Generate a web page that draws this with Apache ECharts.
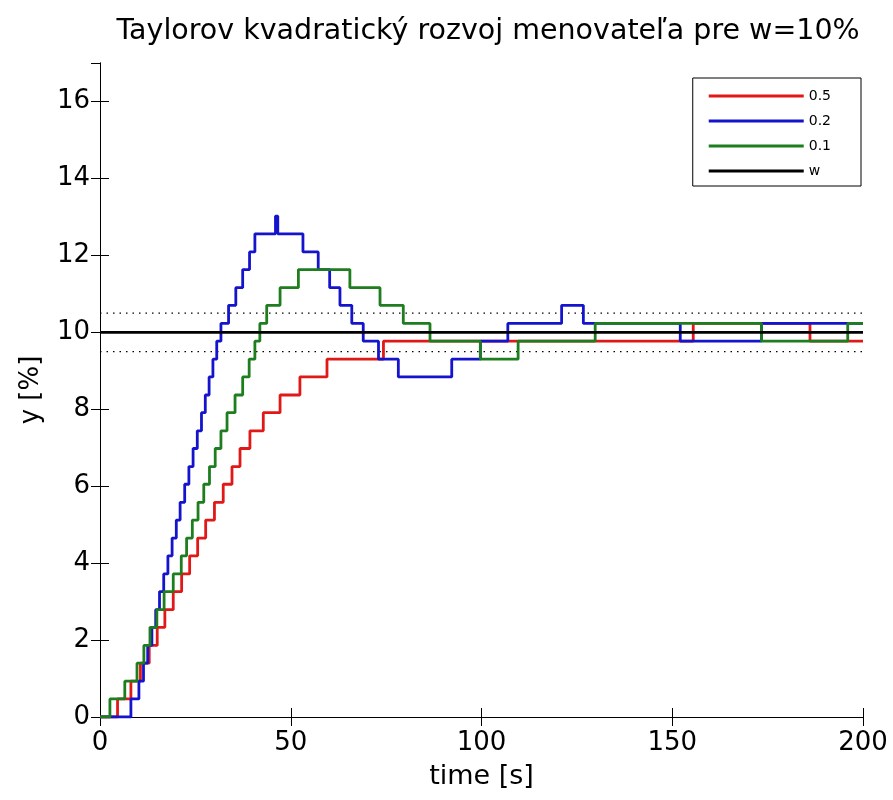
<!DOCTYPE html>
<html><head><meta charset="utf-8">
<script src="https://cdn.jsdelivr.net/npm/echarts@6/dist/echarts.min.js"></script>
<style>html,body{margin:0;padding:0;background:#fff}#c{width:893px;height:800px}</style>
</head><body><div id="c"></div>
<script>
const titleText = 'Taylorov kvadratický rozvoj menovateľa pre w=10%';
const xTicks = [0, 50, 100, 150, 200];
const yTicks = [0, 2, 4, 6, 8, 10, 12, 14, 16];
const seriesNames = ['0.5', '0.2', '0.1', 'w'];
// [time s, y %] step change points
const red05 = [[0,0],[4.6,0.47],[8.1,0.93],[10.6,1.40],[12.9,1.86],[15.0,2.33],[17.0,2.79],[19.2,3.26],[21.4,3.72],[23.5,4.19],[25.6,4.65],[27.7,5.12],[30.0,5.58],[32.3,6.05],[34.6,6.51],[36.7,6.98],[39.3,7.44],[42.8,7.91],[47.2,8.37],[52.4,8.84],[59.5,9.30],[74.3,9.77],[155.5,10.23],[186.1,9.77],[200,9.77]];
const blue02 = [[0,0],[8.1,0.47],[10.2,0.93],[11.4,1.40],[12.5,1.86],[13.6,2.33],[14.6,2.79],[15.6,3.26],[16.7,3.72],[17.8,4.19],[18.9,4.65],[20.0,5.12],[21.0,5.58],[22.2,6.05],[23.3,6.51],[24.4,6.98],[25.5,7.44],[26.6,7.91],[27.6,8.37],[28.6,8.84],[29.6,9.30],[30.6,9.77],[31.7,10.23],[33.7,10.70],[35.6,11.16],[37.4,11.63],[39.2,12.09],[40.6,12.56],[46.0,13.02],[46.6,12.56],[53.2,12.09],[57.2,11.63],[60.2,11.16],[62.9,10.70],[66.0,10.23],[69.0,9.77],[73.0,9.30],[78.2,8.84],[92.2,9.30],[99.7,9.77],[106.9,10.23],[121.0,10.70],[126.7,10.23],[152.1,9.77],[173.4,10.23],[200,10.23]];
const green01 = [[0,0],[2.6,0.47],[6.5,0.93],[9.7,1.40],[11.5,1.86],[13.1,2.33],[14.9,2.79],[16.8,3.26],[19.2,3.72],[21.3,4.19],[22.7,4.65],[24.2,5.12],[25.7,5.58],[27.2,6.05],[28.7,6.51],[30.2,6.98],[31.7,7.44],[33.3,7.91],[35.4,8.37],[37.4,8.84],[39.1,9.30],[40.6,9.77],[41.9,10.23],[43.7,10.70],[47.2,11.16],[52.0,11.63],[65.5,11.16],[73.4,10.70],[79.5,10.23],[86.5,9.77],[99.7,9.30],[109.6,9.77],[129.8,10.23],[173.4,9.77],[196.0,10.23],[200,10.23]];
const wRef = [[0,10],[200,10]];
const bandHigh = [[0,10.5],[200,10.5]];
const bandLow = [[0,9.5],[200,9.5]];

const FONT = '"DejaVu Sans", "Liberation Sans", Arial, sans-serif';
const chart = echarts.init(document.getElementById('c'), null, {renderer: 'canvas'});
const lineSeries = (name, data, color, z) => ({
  name, type: 'line', data, step: 'end', showSymbol: false, symbol: 'none',
  lineStyle: {color, width: 2.8}, itemStyle: {color}, z, animation: false
});
chart.setOption({
  animation: false,
  backgroundColor: '#fff',
  title: {text: titleText, left: 483, textAlign: 'center', top: 12,
    textStyle: {fontFamily: FONT, fontSize: 28.5, fontWeight: 'normal', color: '#000'}},
  grid: {left: 100, right: 30, top: 63, bottom: 83},
  legend: {
    data: seriesNames.map(n => ({name: n, icon: 'rect'})),
    orient: 'vertical', right: 32, top: 78,
    itemWidth: 95, itemHeight: 3, itemGap: 11,
    padding: [11, 30, 8, 16],
    borderColor: '#000', borderWidth: 1, backgroundColor: '#fff',
    textStyle: {fontFamily: FONT, fontSize: 14, color: '#000', lineHeight: 14}
  },
  xAxis: [{
    type: 'value', min: xTicks[0], max: xTicks[xTicks.length-1], interval: 50,
    name: 'time [s]', nameLocation: 'middle', nameGap: 46,
    nameTextStyle: {fontFamily: FONT, fontSize: 27, color: '#000'},
    axisLine: {lineStyle: {color: '#000', width: 1}},
    axisTick: {inside: true, length: 9, lineStyle: {color: '#000'}},
    axisLabel: {fontFamily: FONT, fontSize: 26, color: '#000', margin: 13},
    splitLine: {show: false}
  }, {
    type: 'value', position: 'top', min: xTicks[0], max: xTicks[xTicks.length-1], interval: 50,
    axisLine: {show: true, lineStyle: {color: '#000', width: 1}},
    axisTick: {inside: true, length: 9, lineStyle: {color: '#000'}},
    axisLabel: {show: false}, splitLine: {show: false}
  }],
  yAxis: [{
    type: 'value', min: yTicks[0], max: 17, interval: 2,
    name: 'y [%]', nameLocation: 'middle', nameGap: 56, nameRotate: 90,
    nameTextStyle: {fontFamily: FONT, fontSize: 26, color: '#000'},
    axisLine: {show: true, lineStyle: {color: '#000', width: 1}},
    axisTick: {inside: true, length: 9, lineStyle: {color: '#000'}},
    axisLabel: {fontFamily: FONT, fontSize: 26, color: '#000', margin: 10, showMaxLabel: false,
      formatter: v => (yTicks.indexOf(v) >= 0 ? String(v) : '')},
    splitLine: {show: false}
  }, {
    type: 'value', position: 'right', min: yTicks[0], max: 17, interval: 2,
    axisLine: {show: true, lineStyle: {color: '#000', width: 1}},
    axisTick: {inside: true, length: 9, lineStyle: {color: '#000'}},
    axisLabel: {show: false}, splitLine: {show: false}
  }],
  series: [
    {name: 'band+', type: 'line', data: bandHigh, showSymbol: false, symbol: 'none',
      lineStyle: {color: '#000', width: 1.2, type: [1.5, 5]}, z: 1, silent: true},
    {name: 'band-', type: 'line', data: bandLow, showSymbol: false, symbol: 'none',
      lineStyle: {color: '#000', width: 1.2, type: [1.5, 5]}, z: 1, silent: true},
    lineSeries(seriesNames[0], red05, '#e01818', 2),
    lineSeries(seriesNames[1], blue02, '#1414cc', 3),
    lineSeries(seriesNames[2], green01, '#1e7d1e', 4),
    {name: seriesNames[3], type: 'line', data: wRef, showSymbol: false, symbol: 'none',
      lineStyle: {color: '#000', width: 2.8}, itemStyle: {color: '#000'}, z: 5}
  ]
});
</script></body></html>
